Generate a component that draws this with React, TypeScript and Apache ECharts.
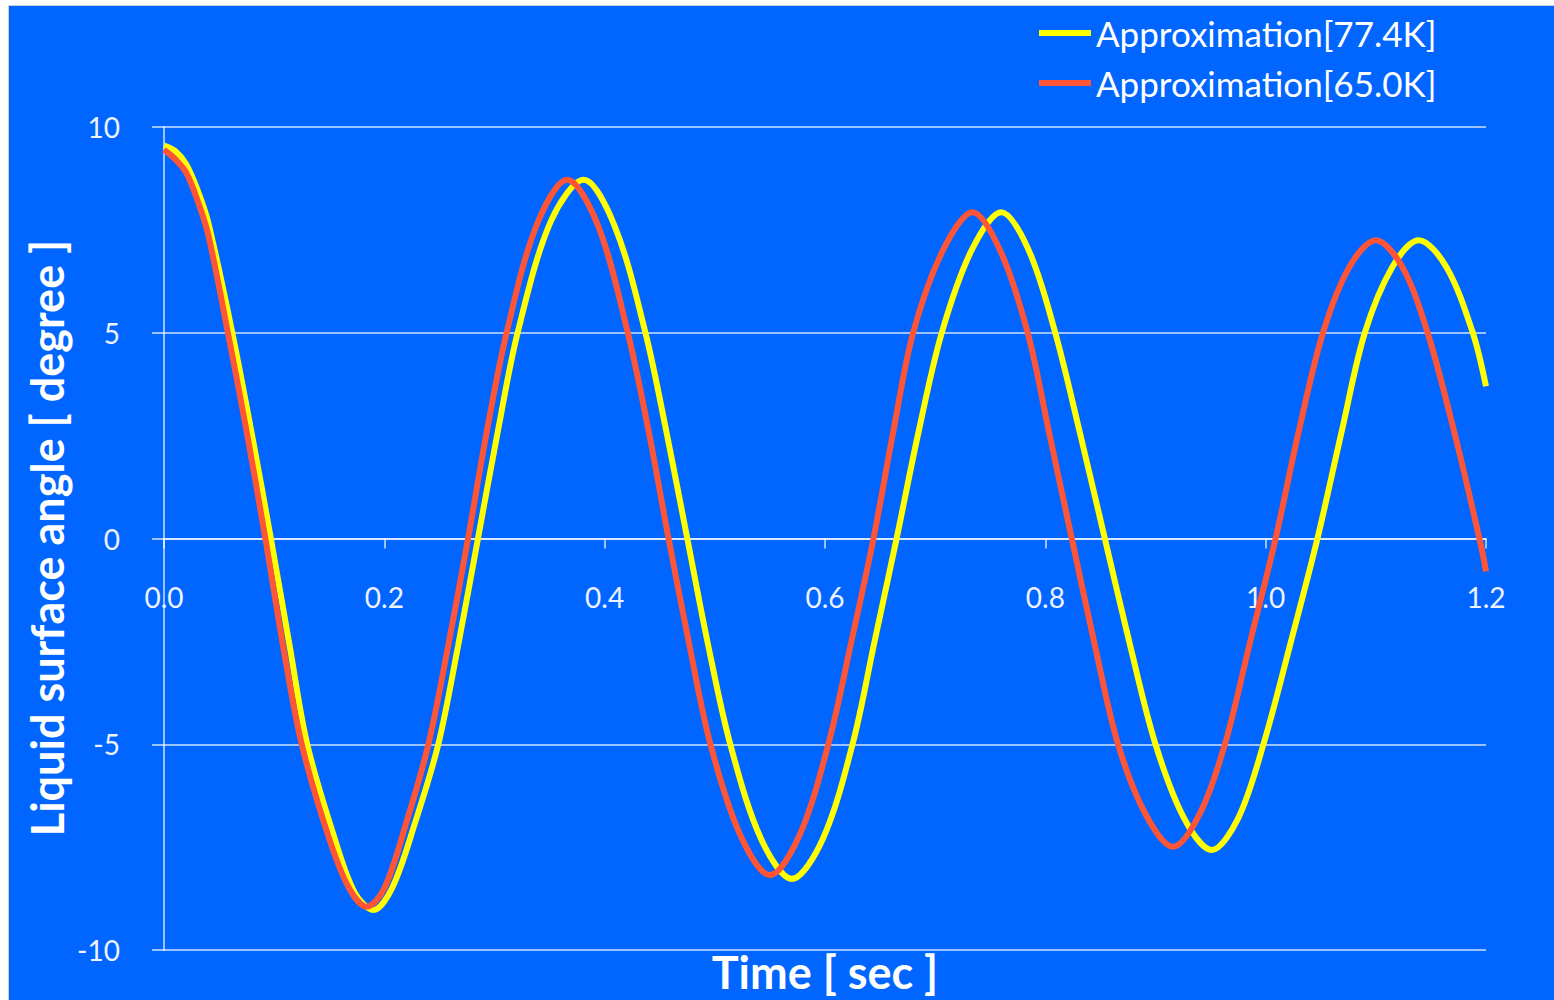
import React, { useEffect, useRef } from "react";
import * as echarts from "echarts";

// Approximation[77.4K] (yellow)
const tYellow = [
  0, 0.01, 0.02, 0.03, 0.04, 0.062, 0.08, 0.097, 0.114, 0.13, 0.155, 0.173, 0.19, 0.207, 0.228, 0.249, 0.267,
  0.285, 0.303, 0.321, 0.351, 0.381, 0.409, 0.437, 0.456, 0.475, 0.494, 0.514, 0.542, 0.57, 0.598,
  0.625, 0.645, 0.665, 0.685, 0.706, 0.733, 0.76, 0.785, 0.809, 0.832, 0.854, 0.877, 0.9, 0.926,
  0.951, 0.975, 0.998, 1.023, 1.047, 1.069, 1.09, 1.115, 1.139, 1.164, 1.188, 1.2,
];
const vYellow = [
  9.55, 9.42, 9.1, 8.5, 7.7, 5.0, 2.5, 0, -2.6, -5.0, -7.3, -8.6, -9.03, -8.5, -6.9, -5.0, -2.6,
  0, 2.6, 5.0, 7.7, 8.72, 7.6, 5.0, 2.6, 0, -2.6, -5.0, -7.3, -8.27, -7.3,
  -5.0, -2.5, 0, 2.6, 5.0, 7.0, 7.93, 7.0, 5.0, 2.5, 0, -2.6, -5.0, -6.8,
  -7.57, -6.8, -5.0, -2.5, 0, 2.6, 5.0, 6.6, 7.25, 6.6, 5.0, 3.7,
];

// Approximation[65.0K] (red)
const tRed = [
  0, 0.01, 0.02, 0.03, 0.04, 0.058, 0.075, 0.092, 0.108, 0.125, 0.15, 0.168, 0.184, 0.2, 0.22, 0.24, 0.258,
  0.276, 0.293, 0.311, 0.338, 0.366, 0.394, 0.421, 0.44, 0.458, 0.477, 0.496, 0.523, 0.55, 0.577,
  0.603, 0.624, 0.644, 0.662, 0.68, 0.707, 0.734, 0.759, 0.784, 0.804, 0.824, 0.845, 0.866, 0.891,
  0.916, 0.94, 0.963, 0.986, 1.009, 1.03, 1.052, 1.076, 1.1, 1.124, 1.147, 1.172, 1.194, 1.2,
];
const vRed = [
  9.45, 9.22, 8.9, 8.25, 7.4, 5.0, 2.6, 0, -2.6, -5.0, -7.3, -8.5, -8.95, -8.5, -6.9, -5.0, -2.6,
  0, 2.6, 5.0, 7.6, 8.72, 7.6, 5.0, 2.6, 0, -2.6, -5.0, -7.2, -8.18, -7.2,
  -5.0, -2.5, 0, 2.6, 5.0, 7.0, 7.93, 7.0, 5.0, 2.5, 0, -2.6, -5.0, -6.7,
  -7.49, -6.7, -5.0, -2.5, 0, 2.6, 5.0, 6.6, 7.25, 6.6, 5.0, 2.5, 0, -0.8,
];

const seriesNames = ["Approximation[77.4K]", "Approximation[65.0K]"];
const seriesColors = ["#ffff00", "#ff5537"];
const yTicks = { min: -10, max: 10, interval: 5 };
const xTicks = { min: 0, max: 1.2, interval: 0.2 };
const xTitle = "Time [ sec ]";
const yTitle = "Liquid surface angle [ degree ]";

const zip = (t: number[], v: number[]) => t.map((x, i) => [x, v[i]]);

export default function App() {
  const ref = useRef<HTMLDivElement>(null);
  useEffect(() => {
    if (!ref.current) return;
    const chart = echarts.init(ref.current, undefined, { renderer: "svg" });
    const gridColor = "rgba(255,255,255,0.6)";
    const labelColor = "#eef3ff";
    chart.setOption({
      animation: false,
      backgroundColor: "#ffffff",
      graphic: [
        {
          type: "rect",
          z: -100,
          silent: true,
          shape: { x: 8.5, y: 5.5, width: 1550, height: 1000 },
          style: { fill: "#0066ff", stroke: "#c6d0e0", lineWidth: 1 },
        },
        {
          type: "text",
          x: 47,
          y: 538,
          rotation: Math.PI / 2,
          z: 10,
          style: {
            text: yTitle,
            fill: "#ffffff",
            font: "bold 45px Lato",
            align: "center",
            verticalAlign: "middle",
          },
        },
        {
          type: "text",
          x: 825,
          y: 972,
          z: 10,
          style: {
            text: xTitle,
            fill: "#ffffff",
            font: "bold 45px Lato",
            align: "center",
            verticalAlign: "middle",
          },
        },
      ],
      legend: {
        orient: "vertical",
        left: 1034,
        top: 7,
        icon: "rect",
        itemWidth: 52,
        itemHeight: 6,
        itemGap: 8,
        data: seriesNames,
        textStyle: { color: "#ffffff", fontSize: 35, fontFamily: "Lato", lineHeight: 42 },
      },
      grid: {
        left: 164,
        right: 68,
        top: 127,
        bottom: 50,
        containLabel: false,
        outerBoundsMode: "none",
      },
      xAxis: {
        type: "value",
        min: xTicks.min,
        max: xTicks.max,
        interval: xTicks.interval,
        position: "bottom",
        offset: -411.5,
        axisLine: { show: true, onZero: false, lineStyle: { color: gridColor, width: 2 } },
        axisTick: { show: true, length: 10, inside: false, lineStyle: { color: gridColor, width: 2 } },
        axisLabel: {
          color: labelColor,
          fontSize: 28,
          fontFamily: "Lato",
          margin: 44,
          formatter: (v: number) => v.toFixed(1),
        },
        splitLine: { show: false },
      },
      yAxis: {
        type: "value",
        min: yTicks.min,
        max: yTicks.max,
        interval: yTicks.interval,
        axisLine: { show: true, onZero: false, lineStyle: { color: gridColor, width: 2 } },
        axisTick: { show: true, length: 12, inside: false, lineStyle: { color: gridColor, width: 2 } },
        axisLabel: { color: labelColor, fontSize: 28, fontFamily: "Lato", margin: 44 },
        splitLine: { show: true, lineStyle: { color: gridColor, width: 2 } },
      },
      series: [
        {
          name: seriesNames[0],
          type: "line",
          data: zip(tYellow, vYellow),
          smooth: 0.33,
          showSymbol: false,
          symbol: "none",
          color: seriesColors[0],
          lineStyle: { color: seriesColors[0], width: 6 },
          z: 3,
        },
        {
          name: seriesNames[1],
          type: "line",
          data: zip(tRed, vRed),
          smooth: 0.33,
          showSymbol: false,
          symbol: "none",
          color: seriesColors[1],
          lineStyle: { color: seriesColors[1], width: 6 },
          z: 4,
        },
      ],
    });
    return () => chart.dispose();
  }, []);
  return (
    <div
      ref={ref}
      style={{ position: "absolute", left: 0, top: 0, width: 1554, height: 1000 }}
    />
  );
}
